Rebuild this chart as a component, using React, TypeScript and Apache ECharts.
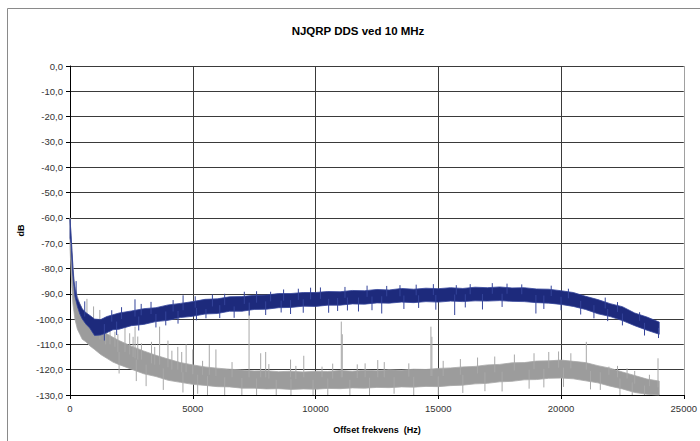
import React, { useEffect, useRef } from "react";
import * as echarts from "echarts";

const TITLE = "NJQRP DDS ved 10 MHz";
const X_NAME = "Offset frekvens  (Hz)";
const Y_NAME = "dB";

const FREQ = [0, 40, 80, 120, 160, 200, 300, 400, 500, 650, 800, 1000, 1250, 1500, 1750, 2000,
  2500, 3000, 3500, 4000, 4500, 5000, 5500, 6000, 6500, 7000, 7500, 8000, 8500, 9000, 9500,
  10000, 10500, 11000, 11500, 12000, 12500, 13000, 13500, 14000, 14500, 15000, 15500, 16000,
  16500, 17000, 17500, 18000, 18500, 19000, 19500, 20000, 20500, 21000, 21500, 22000, 22500,
  23000, 23500, 24000];

// upper / lower edge of the dark (DDS) noise band, dB
const BLUE_HI = [-60.5, -66, -73, -80, -85, -88, -92, -94, -96, -97.5, -98.5, -100, -100.2, -99, -98.3, -97.6,
  -96.8, -95.9, -95.5, -94.4, -93.8, -93.1, -92.2, -92, -91.2, -91.1, -90.6, -90.5, -89.9, -89.9, -89.5,
  -89.5, -89.1, -89.2, -88.7, -88.8, -88.3, -88.5, -87.9, -88.2, -87.8, -88.0, -87.6, -87.9,
  -87.4, -87.6, -87.3, -87.7, -87.6, -88.1, -88.2, -88.8, -89.5, -91.0, -92.3, -93.9, -95.1,
  -97.6, -99.2, -101.2];
const BLUE_LO = [-68, -70, -77, -83, -87, -91, -95, -98, -100, -102, -103.5, -106.5, -106.3, -105.4, -104.2, -104,
  -102.6, -102.1, -101, -100.5, -99.4, -98.9, -98, -97.8, -96.9, -96.9, -96.2, -96.1, -95.5, -95.4, -94.9,
  -95, -94.5, -94.5, -94, -94.1, -93.6, -93.7, -93.3, -93.5, -93.1, -93.3, -92.9, -93.1,
  -92.8, -92.9, -92.7, -93.0, -93.1, -93.5, -93.7, -94.2, -95.0, -96.2, -97.9, -99.0, -100.6,
  -102.6, -104.4, -106.0];

// upper / lower edge of the grey (reference) noise band, dB
const GRAY_HI = [-60, -67, -73, -79, -84, -87, -91, -94, -96, -97.5, -99, -101.5, -104, -105.8, -107.2, -108.5,
  -110.7, -112.6, -114.3, -115.8, -117.2, -118.1, -118.9, -119.4, -119.8, -120.1, -120.5, -120.4, -120.8, -120.6, -120.9,
  -120.6, -120.7, -120.3, -120.6, -120.2, -120.4, -120, -120.2, -119.8, -119.9, -119.5, -119.3, -118.9,
  -118.7, -118.1, -117.9, -117.3, -117.2, -116.6, -116.5, -116.2, -116.7, -117.2, -118.4, -119.4, -120.9,
  -122.3, -123.7, -124.5];
const GRAY_LO = [-72, -80, -88, -94, -97, -100, -104, -106, -108, -109, -110.5, -112, -114, -115.5, -117, -118,
  -119.8, -121.6, -122.7, -124.2, -125, -125.8, -126.2, -126.7, -126.8, -127.3, -127.3, -127.6, -127.5, -127.8, -127.6,
  -127.7, -127.4, -127.5, -127.2, -127.3, -127, -127.1, -126.8, -126.9, -126.6, -126.7, -126.3, -126.1,
  -125.6, -125.4, -124.8, -124.6, -124, -123.9, -123.4, -123.3, -123.6, -124.4, -125.2, -126.5, -127.6,
  -129, -129.7, -130];

// spikes out of the bands: [frequency, from dB, to dB]
const BLUE_SPIKES = [
  [250, -92, -85], [600, -99, -93], [1400, -102, -108.5], [2647, -99, -92.2], [3900, -97, -102.5],
  [4606, -96.5, -90.6], [5538, -96, -99.7], [6686, -95, -99.5], [7970, -93, -98.4], [8172, -93, -89.2],
  [8983, -92.5, -98], [10535, -92, -97.5], [11750, -91.5, -97], [12697, -91, -97.8], [13440, -91, -86.6],
  [15668, -90.3, -98.4], [15734, -90.3, -86.6], [18976, -90.5, -97.8], [21340, -94.5, -99.7], [23970, -103.5, -107.5],
  [1700, -101, -96.5], [2100, -100, -95.3], [2900, -98.5, -94], [3300, -98, -93.2], [4200, -97, -92.5],
  [5100, -95.5, -91], [5800, -95, -90.3], [6300, -94.5, -90], [7100, -94, -89.2], [7600, -93.5, -89],
  [8700, -92.7, -88.3], [9300, -92.4, -88], [9800, -92.2, -87.6], [10200, -92, -87.5], [11200, -91.6, -87.3],
  [12100, -91.2, -86.8], [12900, -91, -86.9], [14100, -90.6, -86.4], [14800, -90.5, -86.2], [16300, -90.2, -86.2],
  [17200, -90, -85.8], [17800, -90, -86], [18400, -90.2, -86.3], [19600, -90.9, -86.8], [20300, -91.8, -88],
  [21800, -95.8, -91.5], [22300, -97.2, -93.3], [23200, -100.7, -97.3],
  [1900, -101, -106.3], [2800, -99, -104.5], [3500, -98, -103.3], [4400, -96.8, -101.8], [5150, -95.6, -100.5],
  [6100, -94.5, -99.6], [7300, -93.5, -98.6], [8600, -92.7, -97.4], [9500, -92.2, -97.5], [10900, -91.7, -96.8],
  [11300, -91.5, -96.6], [12300, -91.1, -96.5], [13600, -90.7, -96], [14200, -90.6, -95.6], [14900, -90.5, -96.3],
  [16100, -90.2, -95.4], [16800, -90.1, -96.2], [17600, -90, -95.2], [19300, -90.7, -96], [20000, -91.2, -96.5],
  [20800, -92.8, -98.2], [21900, -96, -100.8], [22500, -97.8, -102.5], [23400, -101.5, -106.5],
];
const GRAY_SPIKES = [
  [690, -102, -92], [960, -105, -95], [1215, -108, -96.4], [1630, -110, -101], [1830, -111, -105],
  [2240, -113, -103], [2430, -114, -105.6], [2570, -115, -107], [2760, -116, -106.9], [2910, -116, -109.6],
  [3320, -117.5, -109], [3650, -118, -103], [3990, -119, -108.5], [4390, -120, -111], [4730, -121, -110],
  [5673, -122, -110.3], [5943, -122.5, -112], [7293, -123, -96.4], [7767, -123, -113.5], [7970, -123, -113],
  [8983, -123, -116], [9522, -123, -114.5], [10265, -123, -118.8], [11050, -123, -101], [11090, -123, -106],
  [12020, -123, -117.5], [12535, -123, -116.2], [14700, -122.5, -103], [14740, -122.5, -107], [21030, -120, -109],
  [21950, -122, -118.8], [22690, -123.5, -119.5], [23950, -127, -115.5],
  [1450, -110, -100.5], [1950, -113, -106], [2650, -115.5, -103], [3450, -118, -111], [4150, -120, -112.5],
  [4550, -121, -113], [5000, -121.8, -112], [5400, -122, -116.5], [6600, -123, -117], [8100, -123.5, -117.8],
  [9200, -123.7, -118.5], [10700, -123.5, -117.6], [11700, -123.3, -117.9], [12800, -123, -117], [13800, -122.8, -117.5],
  [15200, -122.5, -116.5], [15900, -122, -115.8], [16600, -121.5, -115.2], [17300, -121, -114.8], [18100, -120.3, -114],
  [18900, -119.8, -113.5], [19500, -119.4, -113], [19900, -119.2, -112.8], [20400, -119.5, -113.5], [22300, -123, -118.5],
  [23000, -125.5, -120.5], [23600, -126.5, -122],
  [3100, -118, -126.5], [5200, -122, -129.5], [6300, -123, -130], [8400, -124, -130], [9900, -124, -130],
  [11400, -124, -130], [13200, -123, -129.5], [16900, -121, -128.5], [18700, -120, -127.5], [21600, -121, -128],
  [22900, -125, -130], [2000, -113, -121.5], [2700, -116, -124.5], [3800, -119.5, -128], [4600, -121, -129],
  [5600, -122.5, -130], [7000, -123.3, -130], [7600, -123.5, -130], [9000, -123.7, -130], [10500, -123.5, -130],
  [12200, -123.2, -130], [14000, -122.8, -130], [15000, -122.6, -130], [16000, -122, -129.2], [17600, -120.8, -128.6],
  [19300, -119.7, -127], [20100, -119.2, -126.8], [21200, -120.5, -127.8], [22400, -123.5, -130], [23400, -126.3, -130],
];

const BLUE = "#1d2a7c";
const BLUE_EDGE = "#34449a";
const GRAY = "#9c9c9c";
const GRAY_EDGE = "#a8a8a8";

const FONT = "Arial, 'Liberation Sans', sans-serif";

function bandSeries(hi: number[], lo: number[], fill: string, edge: string, z: number) {
  return {
    type: "custom",
    z,
    silent: true,
    data: [[0, -130]],
    encode: { x: 0, y: 1 },
    renderItem: (_params: any, api: any) => {
      const pts: number[][] = [];
      for (let i = 0; i < FREQ.length; i++) pts.push(api.coord([FREQ[i], hi[i]]));
      for (let i = FREQ.length - 1; i >= 0; i--) pts.push(api.coord([FREQ[i], lo[i]]));
      return {
        type: "polygon",
        shape: { points: pts },
        style: { fill, stroke: edge, lineWidth: 0.8 },
      };
    },
  };
}

function spikeSeries(spikes: number[][], color: string, z: number) {
  return {
    type: "custom",
    z,
    silent: true,
    data: spikes,
    encode: { x: 0, y: [1, 2] },
    renderItem: (_params: any, api: any) => {
      const a = api.coord([api.value(0), api.value(1)]);
      const b = api.coord([api.value(0), api.value(2)]);
      return {
        type: "line",
        shape: { x1: a[0], y1: a[1], x2: b[0], y2: b[1] },
        style: { stroke: color, lineWidth: 1 },
      };
    },
  };
}

export default function App() {
  const ref = useRef<HTMLDivElement>(null);
  useEffect(() => {
    const chart = echarts.init(ref.current!, null, { renderer: "svg" });
    chart.setOption({
      animation: false,
      backgroundColor: "#ffffff",
      grid: { left: 70, right: 13, top: 66, bottom: 46, containLabel: false },
      graphic: [
        {
          type: "rect",
          shape: { x: 7.5, y: 8.5, width: 700, height: 440 },
          style: { fill: "none", stroke: "#8a8a8a", lineWidth: 1 },
          silent: true,
        },
        {
          type: "text",
          x: 358,
          y: 31,
          style: {
            text: TITLE,
            fill: "#000",
            font: `bold 11.5px ${FONT}`,
            textAlign: "center",
            textVerticalAlign: "middle",
          },
        },
      ],
      xAxis: {
        type: "value",
        min: 0,
        max: 25000,
        interval: 5000,
        name: X_NAME,
        nameLocation: "middle",
        nameGap: 30,
        nameTextStyle: { fontFamily: FONT, fontSize: 9, fontWeight: "bold", color: "#000" },
        axisLine: { show: true, onZero: false, lineStyle: { color: "#000", width: 1 } },
        axisTick: { show: true, length: 4, lineStyle: { color: "#000" } },
        axisLabel: { fontFamily: FONT, fontSize: 9.5, color: "#333", margin: 8, formatter: (v: number) => String(v) },
        splitLine: {
          show: true,
          lineStyle: { color: ["#3a3a3a", "#3a3a3a", "#3a3a3a", "#3a3a3a", "#3a3a3a", "#a0a0a0"], width: 1 },
        },
      },
      yAxis: {
        type: "value",
        min: -130,
        max: 0,
        interval: 10,
        name: Y_NAME,
        nameLocation: "middle",
        nameGap: 40,
        nameRotate: 90,
        nameTextStyle: { fontFamily: FONT, fontSize: 9, fontWeight: "bold", color: "#000" },
        axisLine: { show: true, onZero: false, lineStyle: { color: "#000", width: 1 } },
        axisTick: { show: true, length: 4, lineStyle: { color: "#000" } },
        axisLabel: {
          fontFamily: FONT,
          fontSize: 9.5,
          color: "#333",
          margin: 7,
          formatter: (v: number) => v.toFixed(1).replace(".", ","),
        },
        splitLine: { show: true, lineStyle: { color: "#3a3a3a", width: 1 } },
      },
      series: [
        bandSeries(GRAY_HI, GRAY_LO, GRAY, GRAY_EDGE, 2),
        spikeSeries(GRAY_SPIKES, GRAY_EDGE, 2),
        bandSeries(BLUE_HI, BLUE_LO, BLUE, BLUE_EDGE, 3),
        spikeSeries(BLUE_SPIKES, BLUE_EDGE, 3),
      ],
    });
    return () => chart.dispose();
  }, []);
  return (
    <div
      ref={ref}
      style={{ position: "fixed", left: 0, top: 0, width: 700, height: 441, background: "#fff" }}
    />
  );
}
